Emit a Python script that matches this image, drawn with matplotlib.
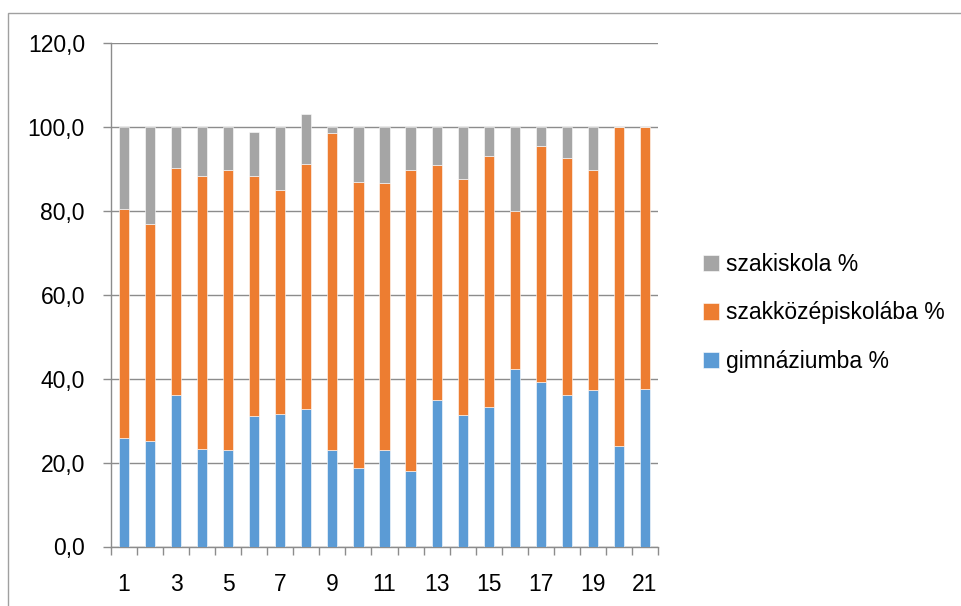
import matplotlib
matplotlib.use('Agg')
import matplotlib.pyplot as plt
import matplotlib.ticker as mticker
from matplotlib.patches import Rectangle
import numpy as np

plt.rcParams['font.family'] = ['Liberation Sans', 'DejaVu Sans']

categories = [str(i) for i in range(1, 22)]
gimn = [25.9, 25.2, 36.0, 23.3, 23.0, 31.0, 31.6, 32.7, 23.1, 18.7, 23.0,
        18.0, 35.0, 31.4, 33.2, 42.3, 39.3, 36.2, 37.2, 24.0, 37.6]
# cumulative top of the orange segment
orange_top = [80.4, 76.9, 90.2, 88.3, 89.7, 88.2, 85.0, 91.0, 98.6, 86.9, 86.5,
              89.7, 90.8, 87.6, 93.0, 79.9, 95.4, 92.6, 89.7, 100.0, 100.0]
# cumulative top of the grey segment
total = [100.0, 100.0, 100.0, 100.0, 100.0, 98.7, 100.0, 103.0, 100.0, 100.0, 100.0,
         100.0, 100.0, 100.0, 100.0, 100.0, 100.0, 100.0, 100.0, 100.0, 100.0]

szakkozep = [o - g for o, g in zip(orange_top, gimn)]
szakiskola = [t - o for t, o in zip(total, orange_top)]

blue = '#5B9BD5'
orange = '#ED7D31'
grey = '#A5A5A5'
linec = '#8C8C8C'

W, H = 961, 606
fig = plt.figure(figsize=(9.61, 6.06), dpi=100)
ax = fig.add_axes([111 / W, 1 - 546.5 / H, 547 / W, 503.8 / H])

x = np.arange(len(categories))
bw = 0.39
b1 = ax.bar(x, gimn, bw, color=blue, edgecolor='white', linewidth=0.4,
            label='gimnáziumba %', zorder=3)
b2 = ax.bar(x, szakkozep, bw, bottom=gimn, color=orange, edgecolor='white',
            linewidth=0.4, label='szakközépiskolába %', zorder=3)
b3 = ax.bar(x, szakiskola, bw, bottom=orange_top, color=grey, edgecolor='white',
            linewidth=0.4, label='szakiskola %', zorder=3)

ax.set_xlim(-0.5, len(categories) - 0.5)
ax.set_ylim(0, 120)
ax.set_yticks(np.arange(0, 121, 20))
ax.yaxis.set_major_formatter(mticker.FuncFormatter(lambda v, _: f'{v:.1f}'.replace('.', ',')))
ax.grid(axis='y', color=linec, linewidth=1.0, zorder=0)

ax.set_xticks(x[::2])
ax.set_xticklabels(categories[::2])
ax.set_xticks(np.arange(-0.5, len(categories), 1), minor=True)
ax.tick_params(axis='x', which='major', length=0, pad=19, labelsize=16.5)
ax.tick_params(axis='x', which='minor', length=5.8, color=linec, width=1.0)
ax.tick_params(axis='y', length=5.8, color=linec, width=1.0, pad=13, labelsize=16.5)

for s in ['top', 'right']:
    ax.spines[s].set_visible(False)
for s in ['left', 'bottom']:
    ax.spines[s].set_color(linec)
    ax.spines[s].set_linewidth(1.0)

fig.legend([b3, b2, b1], ['szakiskola %', 'szakközépiskolába %', 'gimnáziumba %'],
           loc='center left', bbox_to_anchor=(682 / W, 1 - 313 / H),
           frameon=False, fontsize=16.5, handlelength=0.7, handleheight=0.7,
           handletextpad=0.3, labelspacing=1.1)

fig.patches.append(Rectangle((8 / W, -0.1), 2, 1 - 13 / H + 0.1,
                             transform=fig.transFigure, fill=False,
                             edgecolor='#A0A0A0', linewidth=1.0))

fig.savefig('out.png', dpi=100, facecolor='white')
